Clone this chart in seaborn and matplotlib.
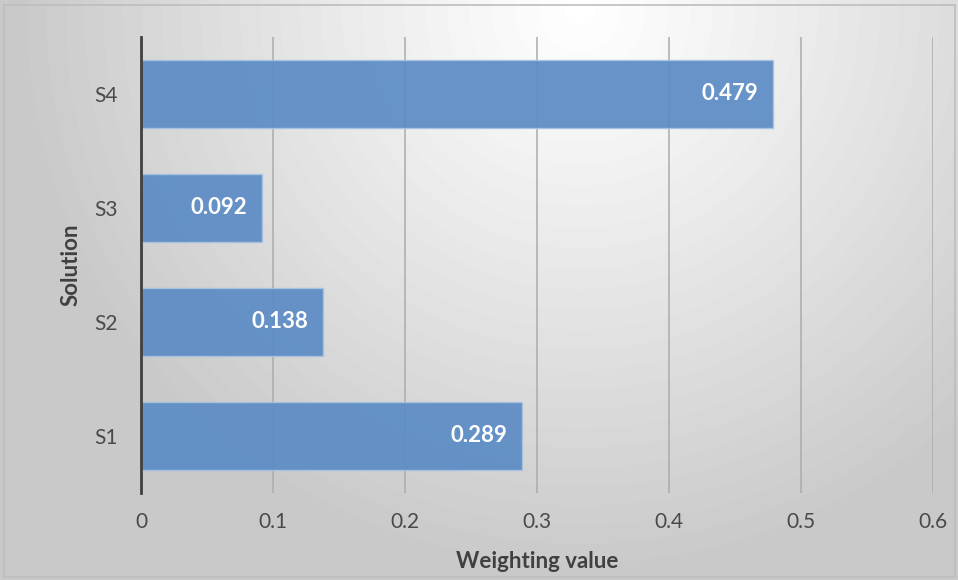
import numpy as np
import pandas as pd
import matplotlib
matplotlib.use("Agg")
import matplotlib.pyplot as plt
from matplotlib.patches import Rectangle
import seaborn as sns

#%% data
solutions = ["S4", "S3", "S2", "S1"]
weights = [0.479, 0.092, 0.138, 0.289]
xticks = [0, 0.1, 0.2, 0.3, 0.4, 0.5, 0.6]

df = pd.DataFrame({"Solution": solutions, "Weighting value": weights})

sns.set_style("white")
plt.rcParams['font.family'] = ['Lato', 'DejaVu Sans']

W, H = 958, 580
fig = plt.figure(figsize=(W / 100, H / 100), dpi=100)

# radial grey background (Excel-like gradient fill)
bg = fig.add_axes([0, 0, 1, 1], zorder=-10)
yy, xx = np.mgrid[0:H, 0:W]
d = np.sqrt((xx - 580) ** 2 + (yy - 10) ** 2)
shade = 1 - 0.21 * np.clip(d / 560, 0, 1) ** 1.1
bg.imshow(shade, cmap="gray", vmin=0, vmax=1, aspect="auto", extent=[0, 1, 0, 1])
bg.axis("off")
fig.patches.append(Rectangle((4 / W, 3 / H), 951 / W, 572 / H, transform=fig.transFigure,
                             fill=False, edgecolor="#bdbdbd", linewidth=1.2, zorder=5))

ax = fig.add_axes([141 / W, 87 / H, 792 / W, 456 / H])
ax.set_facecolor("none")

sns.barplot(data=df, x="Weighting value", y="Solution", order=solutions, orient="h",
            color="#5b8bc5", alpha=0.92, width=0.6, edgecolor="#a9c3e3", linewidth=1,
            saturation=1, ax=ax, zorder=3)

for i, v in enumerate(weights):
    ax.annotate("%.3f" % v, xy=(v, i), xytext=(-11, 0), textcoords="offset points",
                ha="right", va="center", color="white", fontsize=16, fontweight="bold", zorder=5)

ax.set_xlim(0, 0.6)
ax.set_ylim(3.5, -0.5)
ax.set_xticks(xticks)
ax.set_xticklabels(["0" if t == 0 else "%.1f" % t for t in xticks])
ax.xaxis.grid(True, color="#ababab", linewidth=1.1, zorder=0)
ax.set_axisbelow(True)
for s in ["top", "right", "bottom"]:
    ax.spines[s].set_visible(False)
ax.spines["left"].set_color("#404040")
ax.spines["left"].set_linewidth(2.0)
ax.spines["left"].set_zorder(6)
ax.tick_params(axis="both", length=0, labelsize=15, colors="#4a4a4a")
ax.tick_params(axis="y", pad=17)
ax.tick_params(axis="x", pad=14)

ax.set_xlabel("Weighting value", fontsize=16, fontweight="bold", color="#404040")
ax.set_ylabel("Solution", fontsize=16, fontweight="bold", color="#404040")
ax.xaxis.set_label_coords(0.5, -0.127)
ax.yaxis.set_label_coords(-0.0745, 0.5)

plt.savefig("out.png", dpi=100)
